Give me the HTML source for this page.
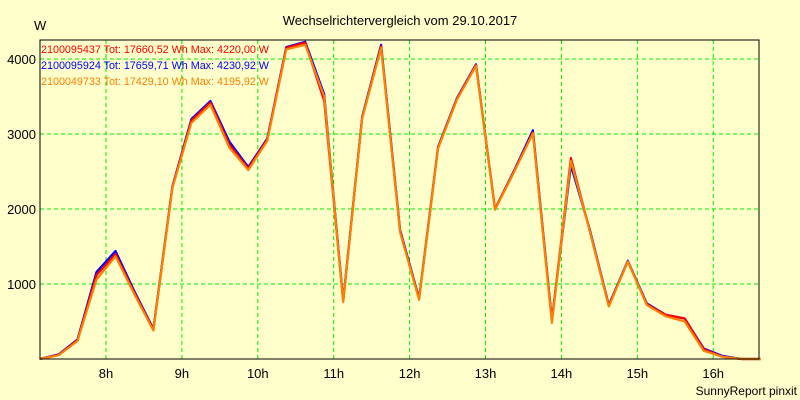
<!DOCTYPE html>
<html><head><meta charset="utf-8"><style>
body{margin:0;background:#ffffcc;}
svg{display:block;font-family:"Liberation Sans",sans-serif;}
</style></head><body>
<svg id="chart" width="800" height="400">
<rect x="0" y="0" width="800" height="400" fill="#ffffcc"/>
<text x="400" y="25" font-size="13" text-anchor="middle">Wechselrichtervergleich vom 29.10.2017</text>
<text x="34" y="30" font-size="13">W</text>
<g id="grid"></g>
<g id="series"></g>
<rect x="40" y="40" width="719" height="319" fill="none" stroke="#000" stroke-width="1"/>
<g id="ticks"></g>
<g font-size="10.8">
<text x="41" y="53" fill="#ff0000" textLength="228">2100095437 Tot: 17660,52 Wh Max: 4220,00 W</text>
<text x="41" y="69" fill="#0000ff" textLength="228">2100095924 Tot: 17659,71 Wh Max: 4230,92 W</text>
<text x="41" y="85" fill="#ff8000" textLength="228">2100049733 Tot: 17429,10 Wh Max: 4195,92 W</text>
</g>
<text x="797" y="395" font-size="12" text-anchor="end">SunnyReport pinxit</text>
</svg>
<script>
const hourTicks = [8,9,10,11,12,13,14,15,16];
const yTicks = [1000,2000,3000,4000];
const startHour = 7.125;
const stepHour = 0.25;
const blueValues = [0,60,260,1160,1440,900,400,2300,3200,3440,2900,2560,2940,4160,4230,3530,780,3230,4190,1720,810,2830,3480,3930,2000,2510,3050,520,2580,1720,720,1310,740,590,540,140,40,0,0];
const redValues  = [0,55,250,1120,1400,880,390,2290,3180,3420,2860,2540,2930,4150,4220,3440,770,3220,4170,1700,800,2820,3470,3920,2000,2500,3020,510,2680,1700,710,1300,730,590,540,130,30,0,0];
const orangeValues=[0,50,240,1060,1370,860,380,2280,3150,3390,2820,2520,2910,4130,4190,3500,760,3210,4150,1690,790,2810,3460,3910,1990,2490,3010,480,2640,1700,700,1300,720,570,500,110,30,0,0];
const NS="http://www.w3.org/2000/svg";
function xs(h){return 106+(h-8)*75.9;}
function ys(v){return 359-v*0.075;}
const grid=document.getElementById('grid'),ticks=document.getElementById('ticks'),ser=document.getElementById('series');
hourTicks.forEach(h=>{
 const l=document.createElementNS(NS,'line');
 l.setAttribute('x1',xs(h));l.setAttribute('x2',xs(h));l.setAttribute('y1',40);l.setAttribute('y2',359);
 l.setAttribute('stroke','#00ee00');l.setAttribute('stroke-dasharray','4,3');
 
 
 grid.appendChild(l);
 const t=document.createElementNS(NS,'text');
 t.setAttribute('x',xs(h));t.setAttribute('y',378);t.setAttribute('font-size','13');t.setAttribute('text-anchor','middle');
 t.textContent=h+'h';
 
 
 ticks.appendChild(t);
});
yTicks.forEach(v=>{
 const l=document.createElementNS(NS,'line');
 l.setAttribute('x1',40);l.setAttribute('x2',759);l.setAttribute('y1',ys(v));l.setAttribute('y2',ys(v));
 l.setAttribute('stroke','#00ee00');l.setAttribute('stroke-dasharray','4,3');
 
 
 grid.appendChild(l);
 const t=document.createElementNS(NS,'text');
 t.setAttribute('x',36);t.setAttribute('y',ys(v)+5);t.setAttribute('font-size','13');t.setAttribute('text-anchor','end');
 t.textContent=v;
 
 
 ticks.appendChild(t);
});
function drawLine(vals,color,name){
 const p=document.createElementNS(NS,'polyline');
 p.setAttribute('points',vals.map((v,i)=>xs(startHour+i*stepHour).toFixed(1)+','+ys(v).toFixed(1)).join(' '));
 p.setAttribute('fill','none');p.setAttribute('stroke',color);p.setAttribute('stroke-width','2.2');p.setAttribute('stroke-linejoin','round');
 
 
 ser.appendChild(p);
}
drawLine(blueValues,'#0000ff','series-line-2100095924');
drawLine(redValues,'#ff0000','series-line-2100095437');
drawLine(orangeValues,'#ff8000','series-line-2100049733');
</script>
</body></html>
